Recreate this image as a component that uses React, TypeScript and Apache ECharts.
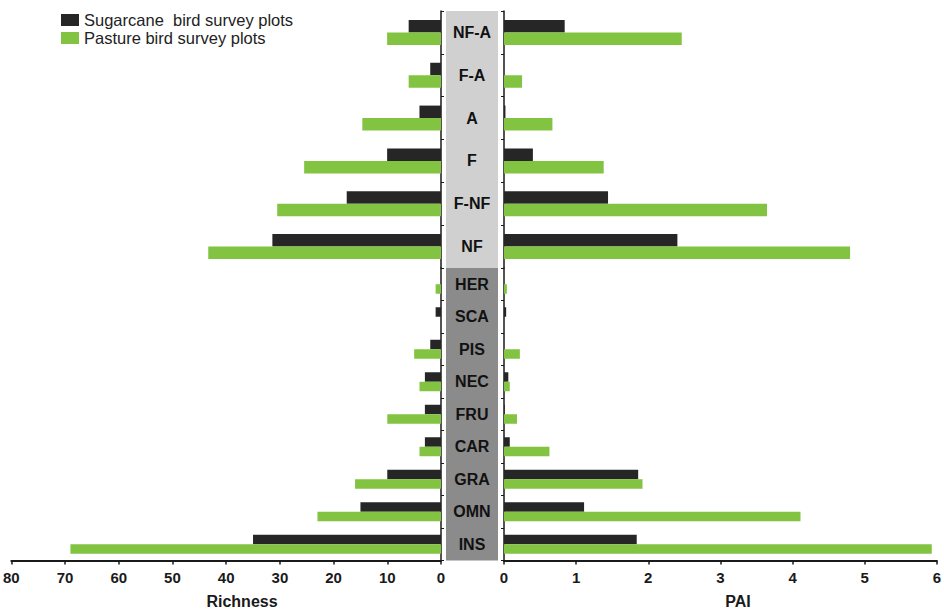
import React, { useEffect, useRef } from "react";
import * as echarts from "echarts";

const categoriesTop = ["NF-A", "F-A", "A", "F", "F-NF", "NF"];
const categoriesBottom = ["HER", "SCA", "PIS", "NEC", "FRU", "CAR", "GRA", "OMN", "INS"];

const richnessSugarTop = [6, 2, 4, 10, 17.5, 31.3];
const richnessPastureTop = [10, 6, 14.6, 25.4, 30.4, 43.2];
const richnessSugarBottom = [0, 1, 2, 3, 3, 3, 10, 15, 35];
const richnessPastureBottom = [1, 0, 5, 4, 10, 4, 16, 23, 69];

const paiSugarTop = [0.84, 0, 0.02, 0.4, 1.44, 2.4];
const paiPastureTop = [2.46, 0.25, 0.67, 1.38, 3.64, 4.79];
const paiSugarBottom = [0, 0.03, 0, 0.06, 0.01, 0.08, 1.86, 1.11, 1.84];
const paiPastureBottom = [0.04, 0, 0.22, 0.08, 0.18, 0.63, 1.92, 4.11, 5.93];

const SUGAR = "Sugarcane  bird survey plots";
const PASTURE = "Pasture bird survey plots";
const SUGAR_COLOR = "#262626";
const PASTURE_COLOR = "#82c341";

const NARROW = "'Liberation Sans Narrow', 'Liberation Sans', Arial, sans-serif";
const SANS = "'Liberation Sans', Arial, sans-serif";

export default function App() {
  const ref = useRef<HTMLDivElement>(null);
  useEffect(() => {
    if (!ref.current) return;
    const chart = echarts.init(ref.current, undefined, { renderer: "svg" });

    const TOP = 11, MID = 268, BOT = 560.5;
    const LL = 10, LR = 441, RL = 504, RR = 937.5;

    const grids = [
      { left: LL, width: LR - LL, top: TOP, height: MID - TOP },
      { left: LL, width: LR - LL, top: MID, height: BOT - MID },
      { left: RL, width: RR - RL, top: TOP, height: MID - TOP },
      { left: RL, width: RR - RL, top: MID, height: BOT - MID },
    ];

    const xCommon = (gi: number, show: boolean, isLeft: boolean) => ({
      type: "value",
      gridIndex: gi,
      min: 0,
      max: isLeft ? 80 : 6,
      interval: isLeft ? 10 : 1,
      inverse: isLeft,
      splitLine: { show: false },
      axisLine: { show: show, lineStyle: { color: "#1a1a1a", width: 2 } },
      axisTick: { show: show, length: 4, lineStyle: { color: "#1a1a1a", width: 1.5 } },
      axisLabel: {
        show: show,
        margin: 9,
        fontFamily: NARROW,
        fontWeight: "bold",
        fontSize: 15,
        color: "#1a1a1a",
      },
    });

    const yCommon = (gi: number, cats: string[], isLeft: boolean) => ({
      type: "category",
      gridIndex: gi,
      data: cats,
      inverse: true,
      position: isLeft ? "right" : "left",
      axisLine: { show: true, lineStyle: { color: "#1a1a1a", width: 1.5 } },
      axisTick: { show: true, length: 3, lineStyle: { color: "#1a1a1a", width: 1 } },
      axisLabel: isLeft
        ? { show: false }
        : {
            show: true,
            margin: 32,
            align: "center",
            fontFamily: SANS,
            fontWeight: "bold",
            fontSize: 16,
            color: "#111",
          },
    });

    const bar = (name: string, color: string, gi: number, data: number[], w: number) => ({
      type: "bar",
      name,
      xAxisIndex: gi,
      yAxisIndex: gi,
      data,
      barWidth: w,
      barGap: "0%",
      itemStyle: { color },
    });

    chart.setOption({
      animation: false,
      legend: {
        orient: "vertical",
        left: 56,
        top: 6,
        itemWidth: 18,
        itemHeight: 12,
        itemGap: 0,
        icon: "rect",
        data: [SUGAR, PASTURE],
        textStyle: { fontFamily: SANS, fontSize: 16.5, lineHeight: 18, color: "#222" },
      },
      grid: grids,
      xAxis: [
        xCommon(0, false, true),
        xCommon(1, true, true),
        xCommon(2, false, false),
        xCommon(3, true, false),
      ],
      yAxis: [
        yCommon(0, categoriesTop, true),
        yCommon(1, categoriesBottom, true),
        yCommon(2, categoriesTop, false),
        yCommon(3, categoriesBottom, false),
      ],
      graphic: [
        { type: "rect", z: -10, shape: { x: 446, y: TOP, width: 52, height: MID - TOP }, style: { fill: "#d0d0d0" } },
        { type: "rect", z: -10, shape: { x: 446, y: MID, width: 52, height: BOT - MID }, style: { fill: "#8b8b8b" } },
        {
          type: "text",
          x: 242,
          y: 601,
          style: { text: "Richness", fontFamily: NARROW, fontWeight: "bold", fontSize: 16, fill: "#1a1a1a", align: "center", verticalAlign: "middle" },
        },
        {
          type: "text",
          x: 738,
          y: 601,
          style: { text: "PAI", fontFamily: NARROW, fontWeight: "bold", fontSize: 16, fill: "#1a1a1a", align: "center", verticalAlign: "middle" },
        },
      ],
      series: [
        bar(SUGAR, SUGAR_COLOR, 0, richnessSugarTop, 12.5),
        bar(PASTURE, PASTURE_COLOR, 0, richnessPastureTop, 12.5),
        bar(SUGAR, SUGAR_COLOR, 1, richnessSugarBottom, 9.5),
        bar(PASTURE, PASTURE_COLOR, 1, richnessPastureBottom, 9.5),
        bar(SUGAR, SUGAR_COLOR, 2, paiSugarTop, 12.5),
        bar(PASTURE, PASTURE_COLOR, 2, paiPastureTop, 12.5),
        bar(SUGAR, SUGAR_COLOR, 3, paiSugarBottom, 9.5),
        bar(PASTURE, PASTURE_COLOR, 3, paiPastureBottom, 9.5),
      ],
    });
    return () => chart.dispose();
  }, []);

  return <div ref={ref} style={{ width: 944, height: 610, position: "absolute", left: 0, top: 0, background: "#fff" }} />;
}
